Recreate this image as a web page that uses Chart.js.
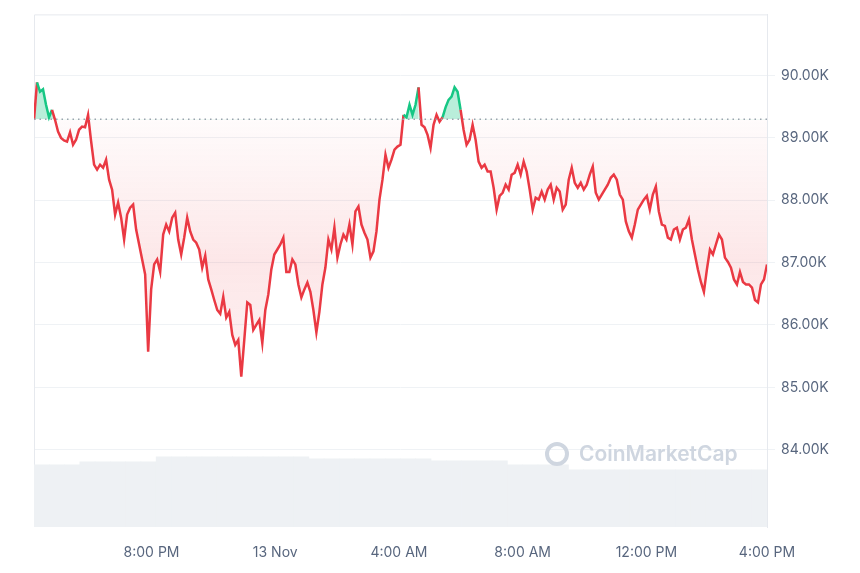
<!DOCTYPE html>
<html><head><meta charset="utf-8">
<script src="https://cdn.jsdelivr.net/npm/chart.js@4"></script>
<style>
html,body{margin:0;padding:0;background:#fff;}
#wrap{position:relative;width:860px;height:573px;}
#wm{position:absolute;left:545px;top:441px;display:flex;align-items:center;font-family:Inter,"Noto Sans",sans-serif;font-size:21px;font-weight:600;color:#cfd6e0;}
#wm span.c{width:24px;height:24px;border:4px solid #cfd6e0;border-radius:50%;box-sizing:border-box;margin-right:10px;}
</style></head><body>
<div id="wrap"><canvas id="c" width="860" height="573"></canvas>
<div id="wm"><span class="c"></span>CoinMarketCap</div></div>
<script>
const baseline = 89.3;
const hoursSpan = 23.7;
const xTickHours = [3.8, 7.8, 11.8, 15.8, 19.8, 23.7];
const xTickLabels = ["8:00 PM", "13 Nov", "4:00 AM", "8:00 AM", "12:00 PM", "4:00 PM"];
const prices = [89.29,89.89,89.74,89.78,89.53,89.33,89.45,89.29,89.10,89.00,88.96,88.94,89.09,88.89,88.97,89.13,89.18,89.17,89.37,88.95,88.57,88.49,88.57,88.52,88.65,88.33,88.17,87.77,87.96,87.72,87.37,87.77,87.88,87.93,87.53,87.29,87.05,86.81,85.57,86.57,86.97,87.05,86.85,87.45,87.61,87.50,87.72,87.80,87.37,87.13,87.40,87.72,87.50,87.37,87.32,87.21,86.92,87.11,86.73,86.57,86.40,86.24,86.18,86.45,86.12,86.21,85.84,85.68,85.76,85.17,85.76,86.36,86.32,85.92,86.00,86.08,85.71,86.24,86.49,86.89,87.13,87.21,87.29,87.40,86.85,86.85,87.05,86.97,86.65,86.44,86.57,86.68,86.53,86.24,85.88,86.21,86.65,86.92,87.37,87.21,87.56,87.08,87.29,87.45,87.37,87.61,87.29,87.82,87.90,87.61,87.48,87.37,87.08,87.18,87.50,88.01,88.33,88.73,88.52,88.65,88.81,88.86,88.89,89.37,89.33,89.53,89.37,89.53,89.81,89.21,89.17,89.05,88.84,89.21,89.37,89.26,89.33,89.49,89.61,89.66,89.81,89.74,89.45,89.13,88.89,88.97,89.21,88.97,88.62,88.52,88.57,88.46,88.46,88.20,87.85,88.07,88.12,88.25,88.17,88.41,88.44,88.57,88.41,88.62,88.46,88.17,87.85,88.04,88.01,88.14,88.01,88.17,88.25,88.01,88.20,88.14,87.85,87.93,88.33,88.52,88.28,88.20,88.28,88.17,88.25,88.41,88.54,88.12,88.01,88.09,88.17,88.25,88.36,88.41,88.33,88.09,88.01,87.66,87.50,87.40,87.61,87.85,87.93,88.01,88.07,87.85,88.09,88.22,87.82,87.61,87.59,87.40,87.37,87.53,87.56,87.37,87.53,87.56,87.69,87.37,87.13,86.89,86.69,86.53,86.89,87.21,87.13,87.29,87.45,87.37,87.08,87.01,86.92,86.73,86.65,86.85,86.69,86.65,86.65,86.60,86.40,86.36,86.65,86.73,86.97];
const volumes = [3.1,3.1,3.1,3.25,3.25,3.25,3.25,3.25,3.5,3.5,3.5,3.5,3.5,3.5,3.5,3.5,3.5,3.5,3.4,3.4,3.4,3.4,3.4,3.4,3.4,3.4,3.3,3.3,3.3,3.3,3.3,3.1,3.1,3.1,3.1,2.85,2.85,2.85,2.85,2.85,2.85,2.85,2.85,2.85,2.85,2.85,2.85,2.85];

const pricePts = prices.map((p,i)=>({x:i*hoursSpan/(prices.length-1), y:p}));
const volPts = volumes.map((v,i)=>({x:(i+0.5)*hoursSpan/volumes.length, y:v}));
const GREEN='#16c784', RED='#ea3943';
const font={family:'Inter, "Noto Sans", sans-serif', size:14};

const framePlugin={id:'frame',
 beforeDatasetsDraw(ch){const {ctx,chartArea:a}=ch;ctx.save();ctx.strokeStyle='#e6e9ee';ctx.lineWidth=1;
  ctx.beginPath();ctx.moveTo(a.left+0.5,a.bottom);ctx.lineTo(a.left+0.5,a.top+0.5);ctx.lineTo(a.right,a.top+0.5);ctx.stroke();ctx.restore();},
 afterDatasetsDraw(ch){const {ctx,chartArea:a,scales}=ch;const y=scales.y.getPixelForValue(baseline);
  ctx.save();ctx.strokeStyle='#9aa3ae';ctx.setLineDash([1.5,4]);ctx.lineWidth=1.5;ctx.beginPath();ctx.moveTo(a.left,y);ctx.lineTo(a.right,y);ctx.stroke();ctx.restore();}
};

const chart=new Chart(document.getElementById('c'),{
 data:{datasets:[
  {type:'line',data:pricePts,yAxisID:'y',borderWidth:2.5,pointRadius:0,tension:0,order:1,
   segment:{borderColor:c=>(c.p0.parsed.y>=baseline&&c.p1.parsed.y>=baseline)?GREEN:RED},
   borderColor:RED,fill:{target:{value:baseline},above:'rgba(22,199,132,0.3)',below:'rgba(234,57,67,0.08)'}},
  {type:'bar',data:volPts,yAxisID:'y2',backgroundColor:'#eef1f4',barPercentage:1,categoryPercentage:1,order:2}
 ]},
 options:{responsive:false,animation:false,
  layout:{padding:{left:34,top:13}},
  plugins:{legend:{display:false},tooltip:{enabled:false}},
  scales:{
   x:{type:'linear',offset:false,min:0,max:hoursSpan,grid:{display:false,offset:false},border:{display:false},
    afterBuildTicks(s){s.ticks=xTickHours.map(v=>({value:v}));},
    ticks:{autoSkip:false,maxRotation:0,font,color:'#58667e',padding:9,callback:(v,i)=>xTickLabels[i]},
    afterFit(s){s.height=46;}},
   y:{position:'right',min:82.76,max:90.98,grid:{color:'#eff2f5'},border:{display:true,color:'#e6e9ee'},
    afterBuildTicks(s){s.ticks=[84,85,86,87,88,89,90].map(v=>({value:v}));},
    ticks:{font,color:'#58667e',padding:6,callback:v=>v.toFixed(2)+'K'},
    afterFit(s){s.width=93;}},
   y2:{display:false,min:0,max:25.6}
  }},
 plugins:[framePlugin]
});
const a=chart.chartArea;
const g=chart.ctx.createLinearGradient(0,chart.scales.y.getPixelForValue(baseline),0,a.bottom);
g.addColorStop(0,'rgba(234,57,67,0.02)');g.addColorStop(0.35,'rgba(234,57,67,0.12)');g.addColorStop(1,'rgba(234,57,67,0)');
chart.data.datasets[0].fill.below=g;chart.update('none');
</script></body></html>
